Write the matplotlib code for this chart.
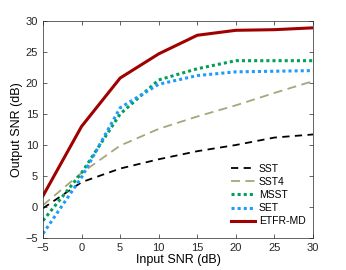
import matplotlib
matplotlib.use("Agg")
import matplotlib.pyplot as plt

plt.rcParams['font.family'] = ['Liberation Sans', 'DejaVu Sans']

snr_in = [-5, 0, 5, 10, 15, 20, 25, 30]
sst = [-0.2, 4.0, 6.2, 7.7, 9.0, 10.0, 11.2, 11.7]
sst4 = [0.3, 5.5, 9.9, 12.6, 14.6, 16.4, 18.4, 20.3]
msst = [-2.2, 5.5, 15.0, 20.5, 22.3, 23.6, 23.6, 23.6]
set_ = [-4.3, 4.8, 16.0, 19.8, 21.2, 21.8, 21.9, 22.0]
etfr = [1.8, 13.0, 20.8, 24.7, 27.7, 28.5, 28.6, 28.9]

fig = plt.figure(figsize=(3.46, 2.70), dpi=100)
ax = fig.add_axes([43/346, 1 - 238/270, 270/346, 217/270])

ax.plot(snr_in, sst, color='black', linestyle=(0, (4, 3)), linewidth=1.3, label='SST')
ax.plot(snr_in, sst4, color='#a8a57c', linestyle=(0, (5, 3)), linewidth=1.3, label='SST4')
ax.plot(snr_in, msst, color='#00a05a', linestyle=(0, (1, 1)), linewidth=2.2, label='MSST')
ax.plot(snr_in, set_, color='#1e9bff', linestyle=(0, (1, 1)), linewidth=2.2, label='SET')
ax.plot(snr_in, etfr, color='#a00000', linestyle='-', linewidth=2.2, label='ETFR-MD')

ax.set_xlim(-5, 30)
ax.set_ylim(-5, 30)
ax.set_xticks(range(-5, 31, 5))
ax.set_yticks(range(-5, 31, 5))
ax.tick_params(direction='in', top=True, right=True, labelsize=8, length=3, width=0.5, colors='#262626')
for s in ax.spines.values():
    s.set_linewidth(0.5)
    s.set_color('#262626')
ax.set_xlabel('Input SNR (dB)', fontsize=9, labelpad=1)
ax.set_ylabel('Output SNR (dB)', fontsize=9, labelpad=2)

ax.legend(loc='lower right', bbox_to_anchor=(1.0, 0.02), frameon=False, fontsize=7.5,
          handlelength=2.3, handletextpad=0.4, labelspacing=0.3, borderaxespad=0.3)

fig.savefig('out.png', dpi=100)
